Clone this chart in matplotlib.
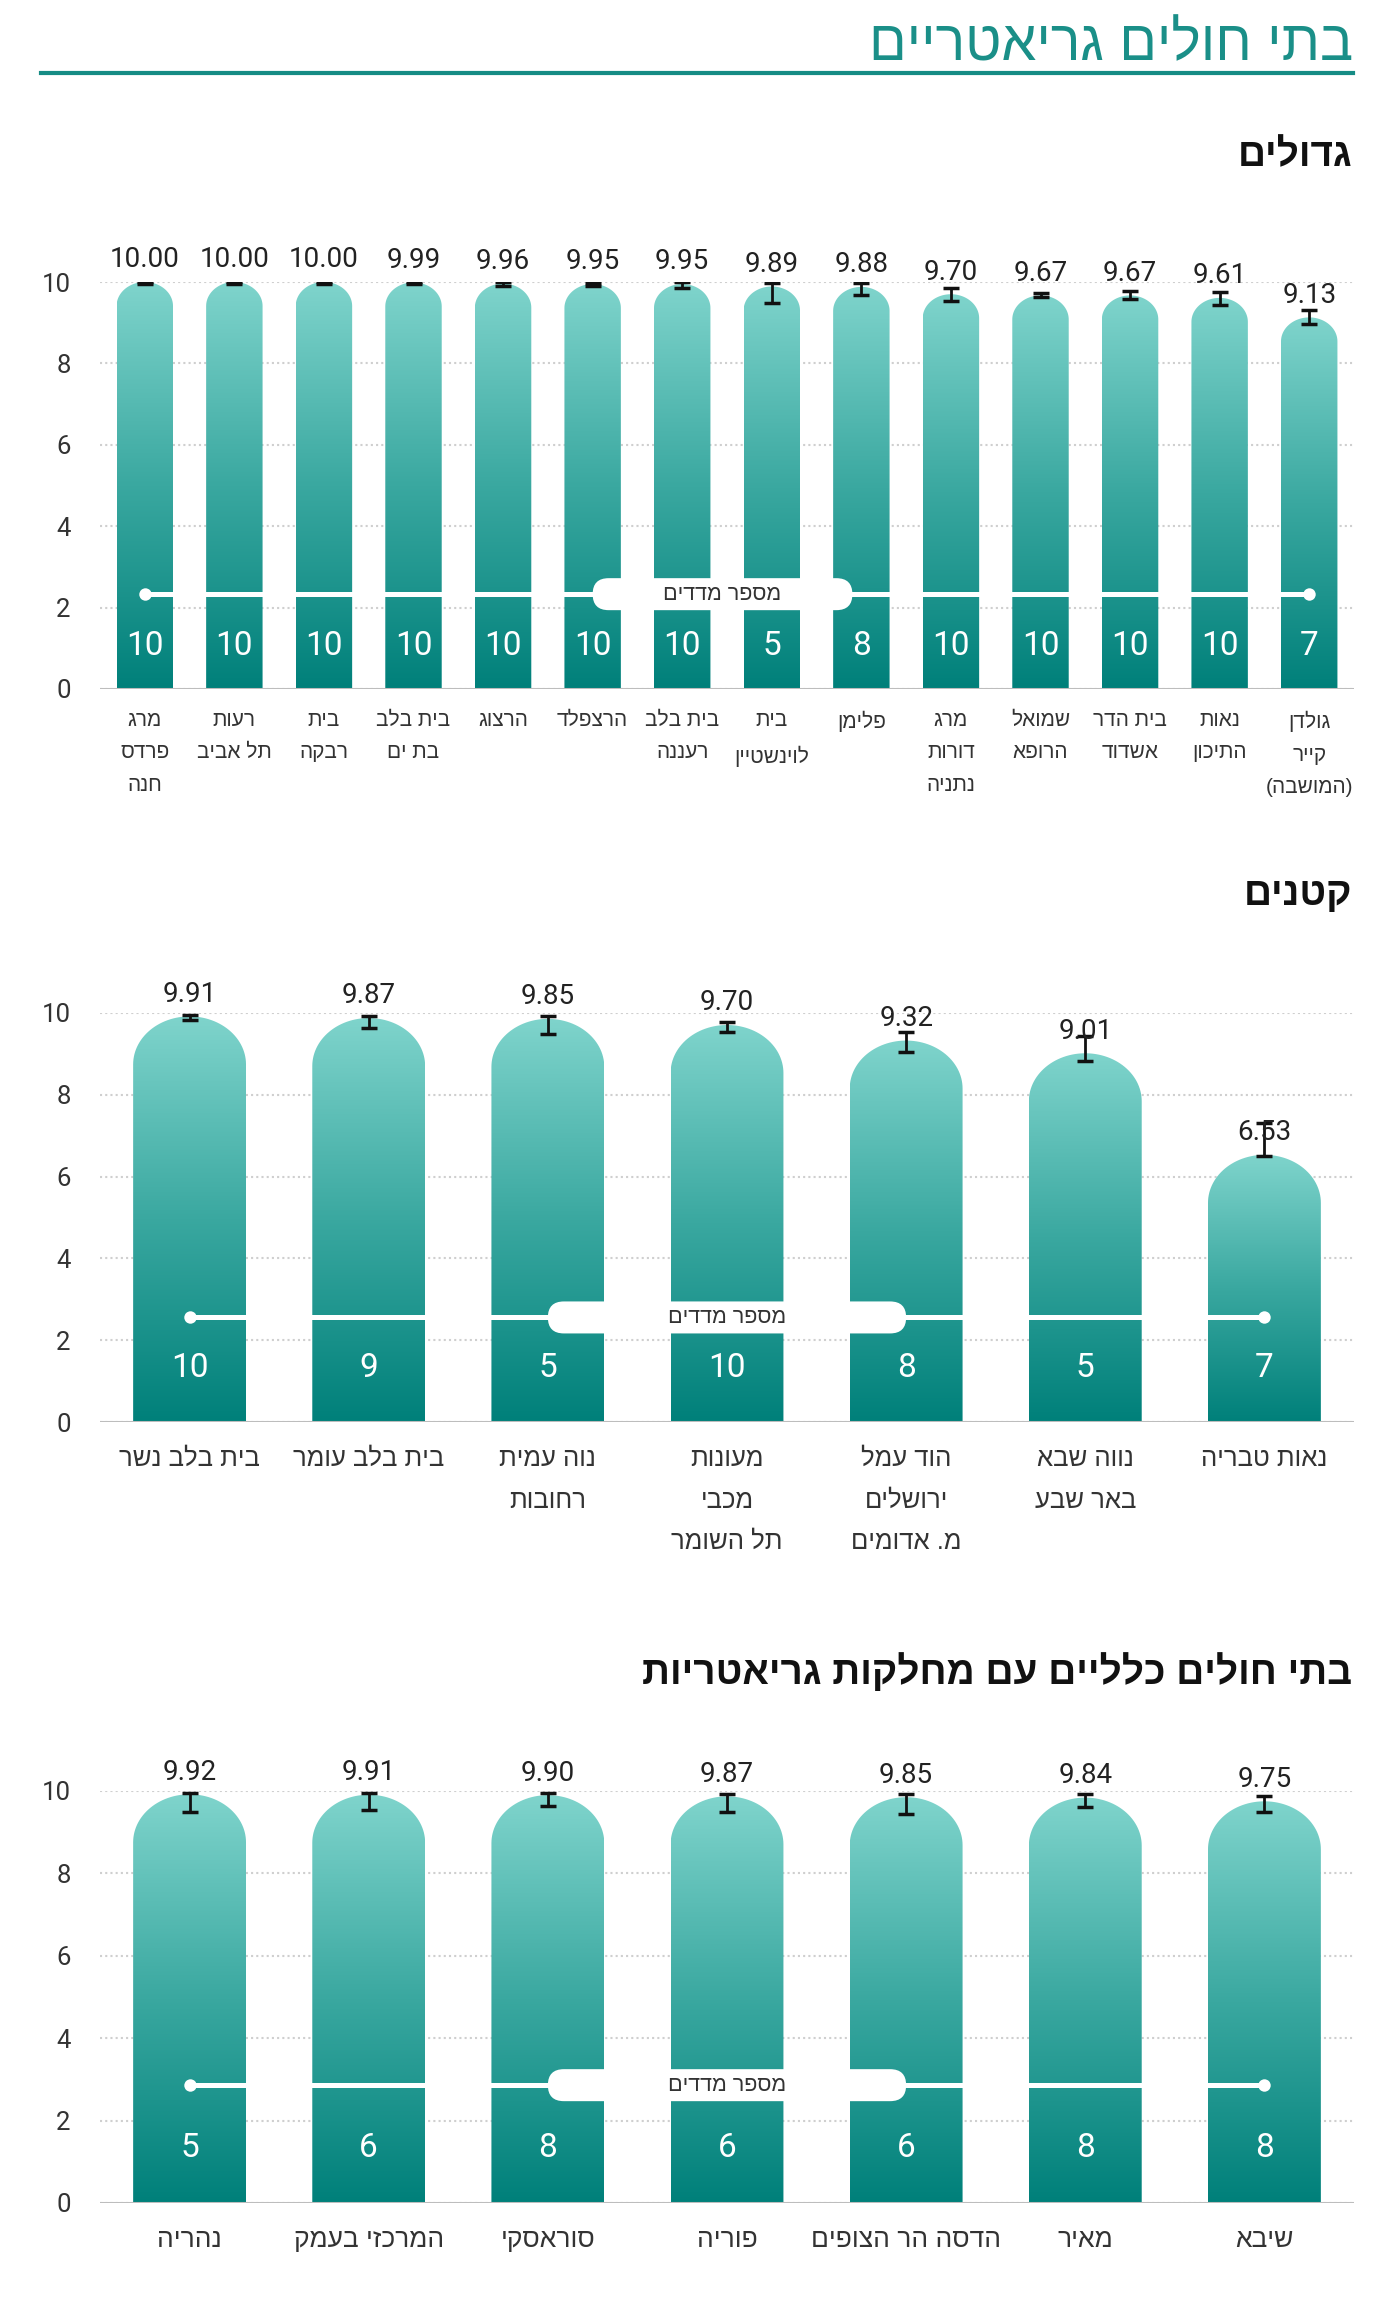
import numpy as np
import matplotlib
matplotlib.use('Agg')
import matplotlib.pyplot as plt
from matplotlib.path import Path
from matplotlib.patches import PathPatch, FancyBboxPatch
from matplotlib.lines import Line2D
from matplotlib.colors import LinearSegmentedColormap

plt.rcParams['font.family'] = ['Roboto', 'Liberation Sans', 'DejaVu Sans']
HEB = ['Liberation Sans', 'DejaVu Sans']

TITLE = 'בתי חולים גריאטריים'
COUNT_LABEL = 'מספר מדדים'

# גדולים
big_title = 'גדולים'
big_names = ['מרג\nפרדס\nחנה', 'רעות\nתל אביב', 'בית\nרבקה', 'בית בלב\nבת ים', 'הרצוג',
             'הרצפלד', 'בית בלב\nרעננה', 'בית\nלוינשטיין', 'פלימן', 'מרג\nדורות\nנתניה',
             'שמואל\nהרופא', 'בית הדר\nאשדוד', 'נאות\nהתיכון', 'גולדן\nקייר\n(המושבה)']
big_scores = [10.00, 10.00, 10.00, 9.99, 9.96, 9.95, 9.95, 9.89, 9.88, 9.70, 9.67, 9.67, 9.61, 9.13]
big_low = [9.95, 9.95, 9.95, 9.95, 9.89, 9.91, 9.86, 9.48, 9.67, 9.54, 9.64, 9.58, 9.44, 8.98]
big_high = [10.0, 10.0, 10.0, 10.0, 10.0, 9.97, 10.0, 9.97, 9.97, 9.86, 9.72, 9.79, 9.75, 9.32]
big_counts = [10, 10, 10, 10, 10, 10, 10, 5, 8, 10, 10, 10, 10, 7]

# קטנים
small_title = 'קטנים'
small_names = ['בית בלב נשר', 'בית בלב עומר', 'נוה עמית\nרחובות', 'מעונות\nמכבי\nתל השומר',
               'הוד עמל\nירושלים\nמ. אדומים', 'נווה שבא\nבאר שבע', 'נאות טבריה']
small_scores = [9.91, 9.87, 9.85, 9.70, 9.32, 9.01, 6.53]
small_low = [9.81, 9.62, 9.48, 9.54, 9.05, 8.81, 6.50]
small_high = [9.94, 9.92, 9.92, 9.78, 9.54, 9.42, 7.30]
small_counts = [10, 9, 5, 10, 8, 5, 7]

# בתי חולים כלליים
general_title = 'בתי חולים כלליים עם מחלקות גריאטריות'
general_names = ['נהריה', 'המרכזי בעמק', 'סוראסקי', 'פוריה', 'הדסה הר הצופים', 'מאיר', 'שיבא']
general_scores = [9.92, 9.91, 9.90, 9.87, 9.85, 9.84, 9.75]
general_low = [9.49, 9.55, 9.63, 9.49, 9.45, 9.60, 9.49]
general_high = [9.96, 9.96, 9.96, 9.92, 9.92, 9.92, 9.88]
general_counts = [5, 6, 8, 6, 6, 8, 8]

W, H = 1400, 2307
teal_cmap = LinearSegmentedColormap.from_list('teal', ['#00807a', '#3aa8a0', '#7fd4cc'])


def heb(s):
    # no bidi in matplotlib -> flip every line into visual order
    lines = []
    for line in s.split('\n'):
        lines.append(line[::-1].translate(str.maketrans('()', ')(')))
    return '\n'.join(lines)


fig = plt.figure(figsize=(W / 100, H / 100), dpi=100)
fig.patch.set_facecolor('white')

fig.text(1353 / W, 1 - 60 / H, heb(TITLE), ha='right', va='baseline', color='#1a8f88',
         fontsize=40, family=HEB)
fig.add_artist(Line2D([41 / W, 1353 / W], [1 - 73 / H] * 2, color='#168c85', lw=3))


def panel(y_top, y_bot, title, title_y, names, scores, low, high, counts,
          line_y, count_y, pill_x, name_size, name_pad, name_ls):
    n = len(names)
    ax = fig.add_axes([100 / W, 1 - y_bot / H, 1254 / W, (y_bot - y_top) / H])
    x = np.arange(n)
    scores = np.array(scores)

    xpx = 1254 / n          # pixels per x unit
    ypx = (y_bot - y_top) / 10.0
    hw = 0.315
    ry = 0.85 * hw * xpx / ypx

    for i in range(n):
        v = scores[i]
        t = np.linspace(0, np.pi, 60)
        verts = [(i - hw, 0), (i + hw, 0)]
        verts += list(zip(i + hw * np.cos(t), v - ry + ry * np.sin(t)))
        verts += [(i - hw, 0)]
        codes = [Path.MOVETO] + [Path.LINETO] * (len(verts) - 2) + [Path.CLOSEPOLY]
        patch = PathPatch(Path(verts, codes), facecolor='none', edgecolor='none')
        ax.add_patch(patch)
        im = ax.imshow(np.linspace(0, 1, 256).reshape(-1, 1), cmap=teal_cmap, origin='lower',
                       extent=(i - hw, i + hw, 0, v), aspect='auto', zorder=2)
        im.set_clip_path(patch)
        ax.text(i, count_y, str(counts[i]), ha='center', va='center', color='white',
                fontsize=24, zorder=6)
        ax.annotate(f'{v:.2f}', (i, v), xytext=(0, 10.5), textcoords='offset points',
                    ha='center', va='baseline', fontsize=20, color='#222222', zorder=6)

    ax.errorbar(x, scores, yerr=[scores - np.array(low), np.array(high) - scores], fmt='none',
                ecolor='#111111', elinewidth=2, capsize=5.5, capthick=2.5, zorder=5)

    # white count strip
    ax.plot([0, n - 1], [line_y, line_y], color='white', lw=3.6, solid_capstyle='butt', zorder=4)
    ax.scatter([0, n - 1], [line_y, line_y], s=80, color='white', zorder=4, linewidths=0)
    ph = 32 / ypx
    pill = FancyBboxPatch((pill_x[0], line_y - ph / 2), pill_x[1] - pill_x[0], ph,
                          boxstyle=f'round,pad=0,rounding_size={16 / xpx}',
                          mutation_aspect=xpx / ypx, facecolor='white', edgecolor='none', zorder=6)
    ax.add_patch(pill)
    ax.text((pill_x[0] + pill_x[1]) / 2, line_y, heb(COUNT_LABEL), ha='center', va='center',
            fontsize=15.5, color='#333333', family=HEB, zorder=7)

    ax.set_xlim(-0.5, n - 0.5)
    ax.set_ylim(0, 10)
    ax.set_yticks([0, 2, 4, 6, 8, 10])
    ax.set_xticks(x)
    ax.set_xticklabels([heb(s) for s in names], family=HEB, fontsize=name_size, color='#333333')
    for lab in ax.get_xticklabels():
        lab.set_linespacing(name_ls)
    ax.tick_params(axis='x', length=0, pad=name_pad)
    ax.tick_params(axis='y', length=0, pad=21, labelsize=18.5, labelcolor='#333333')
    ax.yaxis.grid(True, linestyle=(0, (1, 1.5)), color='#cfcfcf', lw=1.5)
    ax.set_axisbelow(True)
    ax.axhline(0, color='#bdbdbd', lw=2.2, zorder=3)
    for s in ax.spines.values():
        s.set_visible(False)

    fig.text(1352 / W, 1 - title_y / H, heb(title), ha='right', va='baseline', fontsize=28,
             fontweight='bold', family=HEB, color='#111111')
    return ax


panel(282, 689, big_title, 166, big_names, big_scores, big_low, big_high, big_counts,
      2.33, 1.06, (5.0, 7.9), 15, 16, 1.88)
panel(1012.7, 1422.3, small_title, 905, small_names, small_scores, small_low, small_high,
      small_counts, 2.56, 1.32, (2.0, 4.0), 18.5, 18, 1.92)
panel(1791, 2203, general_title, 1684, general_names, general_scores, general_low, general_high,
      general_counts, 2.86, 1.33, (2.0, 4.0), 19, 18, 1.8)

fig.savefig('out.png', dpi=100, facecolor='white')
